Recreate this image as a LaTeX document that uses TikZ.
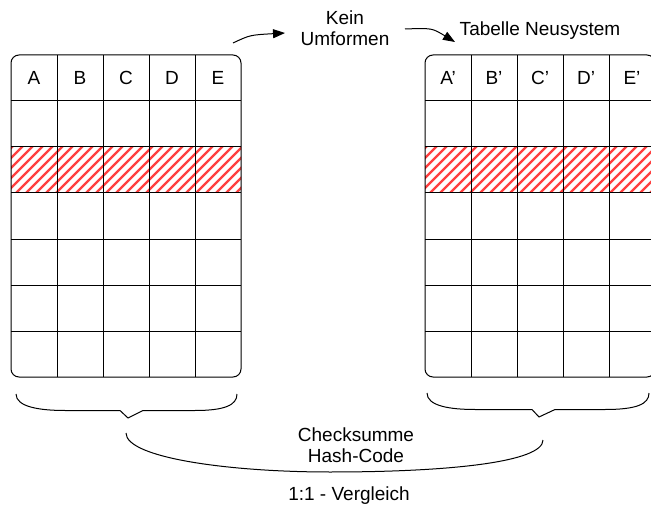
\documentclass[tikz,border=0pt]{standalone}
\usepackage{fontspec}
\setmainfont{Liberation Sans}
\usetikzlibrary{arrows.meta}
\begin{document}
\begin{tikzpicture}[x=1pt,y=-1pt, line width=1pt,
  lbl/.style={font=\fontsize{19}{21}\selectfont, inner sep=0pt, align=center},
  arr/.style={-{Triangle[length=12pt,width=9pt]}, line width=1pt},
  gridline/.style={line width=1pt, black},
  hatch/.style={red!75, line width=2.4pt},
  brace/.style={line width=1pt}]
\clip (0,0) rectangle (651,508);
\fill[white] (0,0) rectangle (651,508);
% tables
\foreach \x/\nm in {11/L,425/R}{
  \begin{scope}
    \clip (\x,147) rectangle (\x+230,193);
    \foreach \s in {-60,-50,...,240}
      \draw[hatch] (\x+\s,198) -- (\x+\s+56,142);
  \end{scope}
  \foreach \r in {101,147,193,239,285,331}
    \draw[gridline] (\x,\r) -- (\x+230,\r);
  \foreach \c in {46,92,138,184}
    \draw[gridline] (\x+\c,55) -- (\x+\c,377);
  \draw[gridline, rounded corners=8pt] (\x,55) rectangle (\x+230,377);
}
\foreach \t [count=\i] in {A,B,C,D,E}
  \node[lbl] (hL\i) at (11+46*\i-23,78) {\t};
\foreach \t [count=\i] in {A',B',C',D',E'}
  \node[lbl] (hR\i) at (425+46*\i-23,78) {\t};
% labels
\node[lbl] (kein) at (345,28) {Kein\\Umformen};
\node[lbl] (tabelle) at (540,31) {Tabelle Neusystem};
\node[lbl] (check) at (356,445) {Checksumme\\Hash-Code};
\node[lbl] (vergl) at (349,496) {1:1 - Vergleich};
% arrows
\coordinate (a1s) at (233,43);
\coordinate (a1e) at (285,33);
\coordinate (a2s) at (405,29);
\coordinate (a2e) at (455,42);
\draw[arr] (a1s) .. controls (250,35) .. (a1e);
\draw[arr] (a2s) .. controls (432,28) .. (a2e);
% braces
\draw[brace] (16,394) .. controls (16,407) and (40,410.5) .. (65,410.5)
  -- (120,410.5) -- (128,418) -- (143,410.5) -- (195,410.5)
  .. controls (225,410.5) and (237,405) .. (237,394);
\draw[brace] (427,393) .. controls (427,406) and (450,409.5) .. (475,409.5)
  -- (532,409.5) -- (539,417) -- (555,409.5) -- (605,409.5)
  .. controls (637,409.5) and (649,404) .. (649,393);
% bottom curve
\draw[brace] (126,433) .. controls (126,458) and (230,472) .. (330,472)
  .. controls (450,472) and (543,462) .. (543,440);
\end{tikzpicture}
\end{document}
